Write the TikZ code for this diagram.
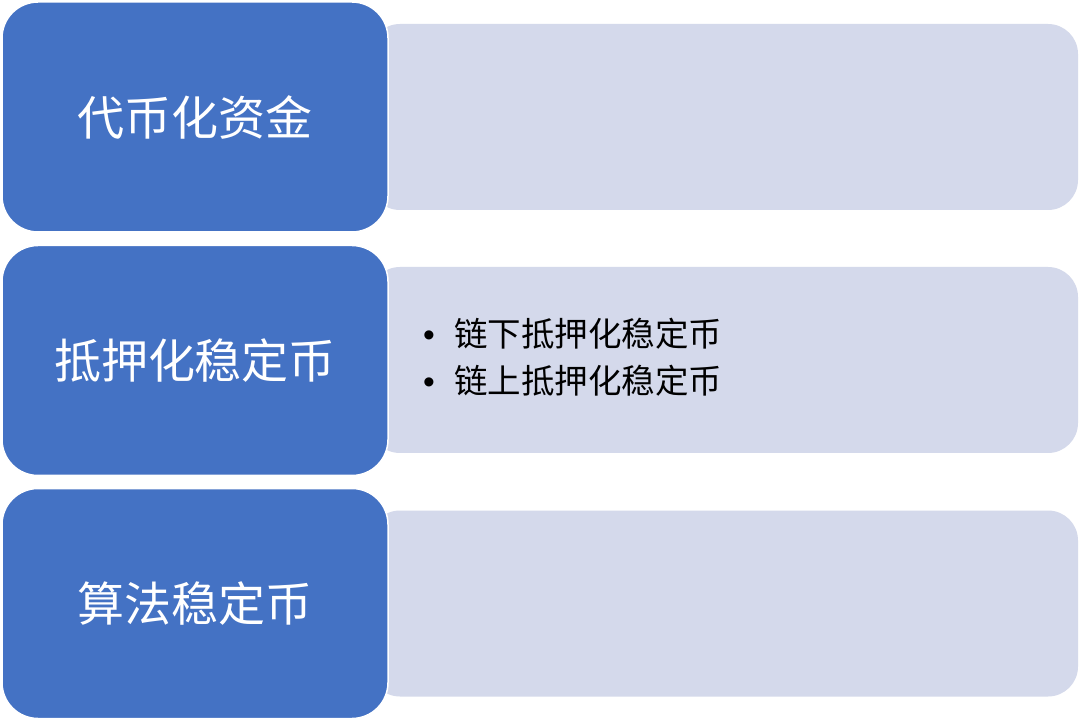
\documentclass[tikz,border=0pt]{standalone}
\usepackage{fontspec}
\setmainfont{Noto Sans CJK SC}
\newfontfamily\cjk{Noto Sans CJK SC}
\newfontfamily\latinf{Liberation Sans}
\definecolor{bluec}{HTML}{4472C4}
\definecolor{lightc}{HTML}{D4D9EB}
\newcommand{\bul}{\makebox[33pt][l]{\hspace*{2pt}{\latinf •}}}
\begin{document}
\begin{tikzpicture}[x=1pt,y=-1pt,
  bluebox/.style={fill=bluec, draw=white, line width=1.5pt, rounded corners=36pt,
    minimum width=386pt, minimum height=230pt, inner sep=0pt, text=white,
    font=\cjk\fontsize{47}{52}\selectfont},
  lightbox/.style={fill=lightc, draw=none, rounded corners=30pt,
    minimum width=708pt, minimum height=186pt, inner sep=0pt},
  bullets/.style={anchor=west, align=left, text=black, inner sep=0pt,
    font=\cjk\fontsize{33.5}{47.5}\selectfont}]
\useasboundingbox (0,0) rectangle (1080,719);
\fill[white] (0,0) rectangle (1080,719);
\node[lightbox] (l1) at (724,117) {};
\node[lightbox] (l2) at (724,360) {};
\node[lightbox] (l3) at (724,603.5) {};
\node[bluebox] (b1) at (195,117) {代币化资金};
\node[bluebox] (b2) at (195,360.5) {抵押化稳定币};
\node[bluebox] (b3) at (195,603.5) {算法稳定币};
\node[bullets] (t2) at (421,357) {\bul 链下抵押化稳定币\\\bul 链上抵押化稳定币};
\end{tikzpicture}
\end{document}
